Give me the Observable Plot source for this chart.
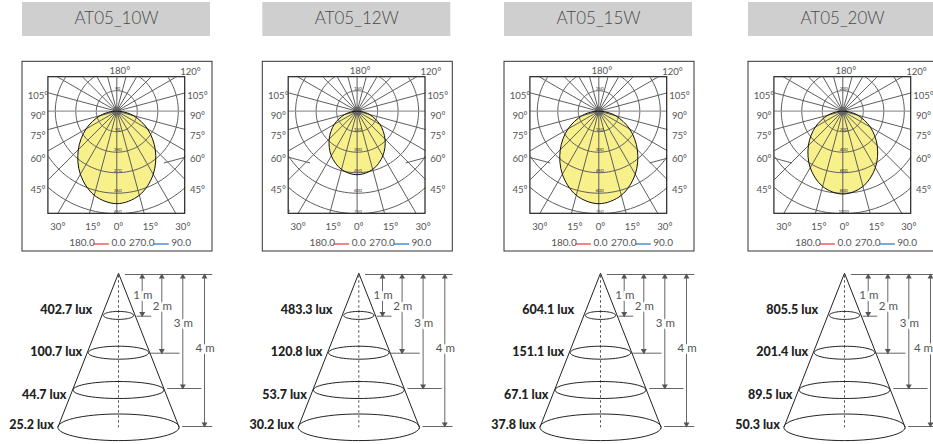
<!DOCTYPE html>
<html>
<head>
<meta charset="utf-8">
<script src="https://cdn.jsdelivr.net/npm/d3@7"></script>
<script src="https://cdn.jsdelivr.net/npm/@observablehq/plot@0.6"></script>
<style>
html,body{margin:0;padding:0;background:#fff;width:933px;height:444px;overflow:hidden}
svg{display:block}
</style>
</head>
<body>
<div id="chart"></div>
<script>
// ---- data ----
const models = ["AT05_10W", "AT05_12W", "AT05_15W", "AT05_20W"];
const ringSteps = [90, 150, 150, 200];
const ringLabels = [
  ["90", "90", "180", "270", "360", "450"],
  ["150", "150", "300", "450", "600", "750"],
  ["150", "150", "300", "450", "600", "750"],
  ["200", "200", "400", "600", "800", "1000"]
];
const gammaAngles = [0, 15, 30, 45, 60, 75, 85];
const candela10W = [406, 382, 320, 239, 156, 77, 25];
const candela12W = [465, 441, 377, 289, 193, 96, 32];
const candela15W = [677, 637, 533, 399, 261, 128, 42];
const candela20W = [808, 760, 636, 475, 310, 152, 50];
const candela = [candela10W, candela12W, candela15W, candela20W];
const distances = [1, 2, 3, 4];
const lux10W = ["402.7", "100.7", "44.7", "25.2"];
const lux12W = ["483.3", "120.8", "53.7", "30.2"];
const lux15W = ["604.1", "151.1", "67.1", "37.8"];
const lux20W = ["805.5", "201.4", "89.5", "50.3"];
const lux = [lux10W, lux12W, lux15W, lux20W];
const sideAngles = ["105°", "90°", "75°", "60°", "45°"];
const bottomAngles = ["30°", "15°", "0°", "15°", "30°"];

// ---- layout (page units) ----
const panelLeft = [22, 262.3, 504, 748];
const FONT = "Lato, 'Open Sans', sans-serif";
const GRID = "#5e5e5e";
const polarCx = 94.3, polarCy = 110.7, ringPx = 20.5;
const sq = {l: -68.4, r: 68.4, t: 76.7, b: 213.3};
const sideY = [95.3, 115.7, 135.7, 158.7, 189.7];
const bottomDx = [-59, -24, 1.7, 33.5, 66];
const coneDx = 96, coneApexY = 272.7;
const coneY = d => 277.6 + 37.3 * d;
const coneRx = d => 15.15 * d;
const coneRy = [4, 6.5, 8.5, 13.3];
const tickFrom = [18, 31, 48.7, 63.7], tickTo = [32.7, 61, 83, 93.7];
const tickY = [315.7, 352.7, 388, 426];
const arrowDx = [23.7, 43.3, 64.3, 86];
const dimLabelY = [295, 306, 323, 348];
const luxDx = [-26.3, -36.3, -52, -64.7];
const luxY = [309, 351, 394, 424];
const lastX = 923; // keeps the last "4 m" inside the page

const rad = a => a * Math.PI / 180;
const panels = d3.range(4);
const cx = p => panelLeft[p] + polarCx;

// polar grid
const ringRows = panels.flatMap(p => d3.range(1, 6).flatMap(k =>
  d3.range(0, 361, 3).map(a => ({
    z: `${p}-${k}`,
    x: cx(p) + k * ringPx * Math.sin(rad(a)),
    y: polarCy + k * ringPx * Math.cos(rad(a))
  }))));
const spokeRows = panels.flatMap(p => d3.range(0, 360, 15).filter(a => a !== 90 && a !== 270).map(a => ({
  x1: cx(p), y1: polarCy,
  x2: cx(p) + 200 * Math.sin(rad(a)),
  y2: polarCy + 200 * Math.cos(rad(a))
})));
const curveRows = panels.flatMap(p => {
  const half = gammaAngles.map((a, i) => ({a, v: candela[p][i]}));
  const loop = [{a: -90, v: 0}, ...half.slice(1).reverse().map(d => ({a: -d.a, v: d.v})), ...half];
  return loop.map(d => {
    const r = d.v / (5 * ringSteps[p]) * 5 * ringPx;
    return {z: p, x: cx(p) + r * Math.sin(rad(d.a)), y: polarCy + r * Math.cos(rad(d.a))};
  });
});
const ringTextRows = panels.flatMap(p => ringLabels[p].map((t, i) => ({
  t, x: cx(p) + 0.8,
  y: i === 0 ? polarCy - ringPx - 1.8 : polarCy + i * ringPx - 2.6
})));

// render helper: clip a mark to its panel's plot square
const clipSquares = function(index, scales, values, dims, ctx, next) {
  const g = next(index, scales, values, dims, ctx);
  g.setAttribute("clip-path", "url(#sq-all)");
  return g;
};

const headerRows = panels.map(p => ({p, x1: panelLeft[p], x2: panelLeft[p] + 188, y1: 2, y2: 36, t: models[p], xc: panelLeft[p] + 94}));
const boxRows = panels.map(p => ({x1: panelLeft[p], x2: panelLeft[p] + 190, y1: 61.3, y2: 251}));
const squareRows = panels.map(p => ({x1: cx(p) + sq.l, x2: cx(p) + sq.r, y1: sq.t, y2: sq.b}));

const degreeText = panels.flatMap(p => [
  ...sideAngles.map((t, i) => ({t, x: panelLeft[p] + 15.5, y: sideY[i]})),
  ...sideAngles.map((t, i) => ({t, x: panelLeft[p] + 175, y: sideY[i]})),
  ...bottomAngles.map((t, i) => ({t, x: cx(p) + bottomDx[i], y: 226.7})),
  {t: "180°", x: cx(p) + 3, y: 70.7},
  {t: "120°", x: panelLeft[p] + 168, y: 71.7}
]);
const legendText = panels.flatMap(p => [
  {t: "180.0", x: panelLeft[p] + 46.7, y: 242.5},
  {t: "0.0", x: panelLeft[p] + 89, y: 242.5},
  {t: "270.0", x: panelLeft[p] + 106.5, y: 242.5},
  {t: "90.0", x: panelLeft[p] + 148.7, y: 242.5}
]);
const legendRed = panels.map(p => ({x1: panelLeft[p] + 70.7, x2: panelLeft[p] + 86.3, y: 243.5}));
const legendBlue = panels.map(p => ({x1: panelLeft[p] + 130.7, x2: panelLeft[p] + 146.3, y: 243.5}));

// cones
const apexX = p => panelLeft[p] + coneDx;
const ellipseRows = panels.flatMap(p => distances.flatMap((d, i) =>
  d3.range(0, 360, 6).map(a => ({
    z: `${p}-${d}`,
    x: apexX(p) + coneRx(d) * Math.cos(rad(a)),
    y: coneY(d) + coneRy[i] * Math.sin(rad(a))
  }))));
const sideRows = panels.flatMap(p => [-1, 1].map(s => ({
  x1: apexX(p), y1: coneApexY, x2: apexX(p) + s * coneRx(4), y2: coneY(4)
})));
const axisRows = panels.map(p => ({x1: apexX(p), x2: apexX(p), y1: coneApexY + 2, y2: coneY(4)}));
const dimRows = panels.flatMap(p => distances.flatMap((d, i) => [
  {x1: apexX(p) + tickFrom[i], x2: apexX(p) + tickTo[i], y1: tickY[i], y2: tickY[i]},
  {x1: apexX(p) + arrowDx[i], x2: apexX(p) + arrowDx[i], y1: 274, y2: tickY[i]}
]));
const topRows = panels.map(p => ({x1: apexX(p) + 6.3, x2: apexX(p) + 93.7, y1: 274, y2: 274}));
const arrowUp = panels.flatMap(p => arrowDx.map(dx => ({x: apexX(p) + dx, y: 276.4})));
const arrowDown = panels.flatMap(p => arrowDx.map((dx, i) => ({x: apexX(p) + dx, y: tickY[i] - 2.4})));
const dimText = panels.flatMap(p => distances.map((d, i) => ({
  t: `${d} m`, x: Math.min(lastX, apexX(p) + arrowDx[i] + 0.6), y: dimLabelY[i]
})));
const luxText = panels.flatMap(p => lux[p].map((v, i) => ({t: `${v} lux`, x: apexX(p) + luxDx[i], y: luxY[i]})));

const chart = Plot.plot({
  width: 933, height: 444,
  margin: 0,
  x: {domain: [0, 933], range: [0, 933], axis: null},
  y: {domain: [0, 444], range: [0, 444], axis: null},
  style: {background: "#fff", fontFamily: FONT, overflow: "hidden"},
  marks: [
    // title bands
    Plot.rect(headerRows, {x1: "x1", x2: "x2", y1: "y1", y2: "y2", fill: "#cfcfcf"}),
    Plot.text(headerRows, {x: "xc", y: 18, text: "t", fontSize: 17, fontWeight: 300, fill: "#4a4a4a", fontFamily: FONT}),
    // polar frames
    Plot.rect(boxRows, {x1: "x1", x2: "x2", y1: "y1", y2: "y2", fill: "#fff", stroke: "#333", strokeWidth: 1}),
    Plot.line(curveRows, {x: "x", y: "y", z: "z", fill: "#f8f08a", stroke: "none", curve: "catmull-rom-closed"}),
    Plot.line(ringRows, {x: "x", y: "y", z: "z", stroke: GRID, strokeWidth: 1, render: clipSquares}),
    Plot.link(spokeRows, {x1: "x1", y1: "y1", x2: "x2", y2: "y2", stroke: GRID, strokeWidth: 1, render: clipSquares}),
    Plot.ruleY([polarCy], {stroke: "#999", strokeWidth: 1.2, render: clipSquares}),
    Plot.dot(panels, {x: p => cx(p), y: polarCy, r: 4.4, fill: "#666"}),
    Plot.line(curveRows, {x: "x", y: "y", z: "z", stroke: "#111", strokeWidth: 1, curve: "catmull-rom-closed"}),
    Plot.rect(squareRows, {x1: "x1", x2: "x2", y1: "y1", y2: "y2", stroke: "#222", strokeWidth: 1.2}),
    Plot.text(ringTextRows, {x: "x", y: "y", text: "t", fontSize: 4.5, fill: "#333", fontFamily: FONT}),
    Plot.text(degreeText, {x: "x", y: "y", text: "t", fontSize: 9.6, fill: "#555", fontFamily: FONT}),
    Plot.text(legendText, {x: "x", y: "y", text: "t", fontSize: 10, textAnchor: "start", fill: "#555", fontFamily: FONT}),
    Plot.link(legendRed, {x1: "x1", y1: "y", x2: "x2", y2: "y", stroke: "#e8343c", strokeWidth: 1.2}),
    Plot.link(legendBlue, {x1: "x1", y1: "y", x2: "x2", y2: "y", stroke: "#1f73bd", strokeWidth: 1.2}),
    // cones
    Plot.link(axisRows, {x1: "x1", y1: "y1", x2: "x2", y2: "y2", stroke: "#555", strokeWidth: 1, strokeDasharray: "2.5,2.5"}),
    Plot.line(ellipseRows, {x: "x", y: "y", z: "z", stroke: "#222", strokeWidth: 1, curve: "catmull-rom-closed"}),
    Plot.link(sideRows, {x1: "x1", y1: "y1", x2: "x2", y2: "y2", stroke: "#222", strokeWidth: 1}),
    Plot.link(dimRows, {x1: "x1", y1: "y1", x2: "x2", y2: "y2", stroke: "#555", strokeWidth: 0.9}),
    Plot.link(topRows, {x1: "x1", y1: "y1", x2: "x2", y2: "y2", stroke: "#555", strokeWidth: 0.9}),
    Plot.dot(arrowUp, {x: "x", y: "y", symbol: "triangle", r: 2.2, fill: "#555"}),
    Plot.dot(arrowDown, {x: "x", y: "y", symbol: "triangle", r: 2.2, rotate: 180, fill: "#555"}),
    Plot.text(dimText, {x: "x", y: "y", text: "t", fontSize: 11.5, fill: "#555", stroke: "#fff", strokeWidth: 5, fontFamily: FONT}),
    Plot.text(luxText, {x: "x", y: "y", text: "t", fontSize: 12.5, fontWeight: 900, textAnchor: "end", fill: "#222", fontFamily: FONT})
  ]
});

// one clip path made of the four plot squares, placed through the chart's scales
const xs = chart.scale("x"), ys = chart.scale("y");
const NS = "http://www.w3.org/2000/svg";
const clip = document.createElementNS(NS, "clipPath");
clip.setAttribute("id", "sq-all");
squareRows.forEach(s => {
  const r = document.createElementNS(NS, "rect");
  r.setAttribute("x", xs.apply(s.x1));
  r.setAttribute("y", ys.apply(s.y1));
  r.setAttribute("width", xs.apply(s.x2) - xs.apply(s.x1));
  r.setAttribute("height", ys.apply(s.y2) - ys.apply(s.y1));
  clip.appendChild(r);
});
const defs = document.createElementNS(NS, "defs");
defs.appendChild(clip);
chart.insertBefore(defs, chart.firstChild);
document.getElementById("chart").appendChild(chart);
</script>
</body>
</html>
